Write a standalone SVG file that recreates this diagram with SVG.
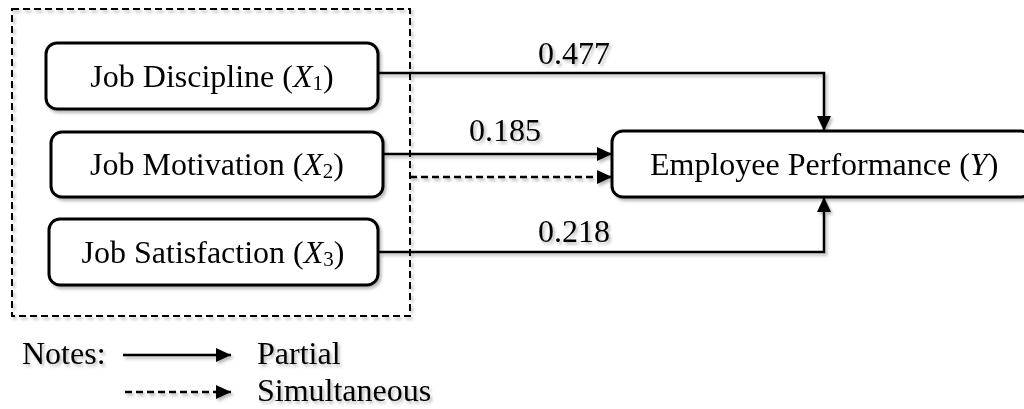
<svg xmlns="http://www.w3.org/2000/svg" width="1024" height="409" viewBox="0 0 1024 409">
<style>
  .t { font-family: "Liberation Serif", "Times New Roman", serif; font-size: 32px; fill: #000; }
  .box { fill: #fff; stroke: #000; stroke-width: 3; }
  .ln { fill: none; stroke: #000; stroke-width: 2.5; }
  .dash { fill: none; stroke: #000; stroke-width: 2.5; stroke-dasharray: 7 4; }
  .frame { fill: none; stroke: #000; stroke-width: 2; stroke-dasharray: 7 4; }
</style>
<defs>
  <filter id="sh" x="-5%" y="-5%" width="110%" height="120%">
    <feDropShadow dx="2" dy="2.5" stdDeviation="1.6" flood-color="#000" flood-opacity="0.28"/>
  </filter>
  <marker id="ah" markerUnits="userSpaceOnUse" markerWidth="16" markerHeight="14" refX="15" refY="7" orient="auto">
    <path d="M0,0 L15,7 L0,14 z" fill="#000"/>
  </marker>
</defs>
<rect width="1024" height="409" fill="#fff"/>
<g filter="url(#sh)">
  <rect id="group-frame" class="frame" x="12" y="9" width="398" height="307"/>
  <g id="connectors">
    <polyline class="ln" points="378,73 824,73 824,131" marker-end="url(#ah)"/>
    <line class="ln" x1="383" y1="154" x2="612" y2="154" marker-end="url(#ah)"/>
    <line class="dash" x1="410" y1="177" x2="612" y2="177" marker-end="url(#ah)"/>
    <polyline class="ln" points="378,252 824,252 824,197" marker-end="url(#ah)"/>
    <text class="t" x="538" y="64">0.477</text>
    <text class="t" x="469" y="141">0.185</text>
    <text class="t" x="538" y="242">0.218</text>
  </g>
  <g id="node-x1">
    <rect class="box" x="46" y="43" width="332" height="66" rx="11"/>
    <text class="t" x="212" y="87" text-anchor="middle">Job Discipline (<tspan font-style="italic">X</tspan><tspan font-size="21" dy="3">1</tspan><tspan dy="-3">)</tspan></text>
  </g>
  <g id="node-x2">
    <rect class="box" x="51" y="132" width="332" height="65" rx="11"/>
    <text class="t" x="217" y="175" text-anchor="middle">Job Motivation (<tspan font-style="italic">X</tspan><tspan font-size="21" dy="3">2</tspan><tspan dy="-3">)</tspan></text>
  </g>
  <g id="node-x3">
    <rect class="box" x="49" y="219" width="329" height="66" rx="11"/>
    <text class="t" x="213" y="263" text-anchor="middle">Job Satisfaction (<tspan font-style="italic">X</tspan><tspan font-size="21" dy="3">3</tspan><tspan dy="-3">)</tspan></text>
  </g>
  <g id="node-y">
    <rect class="box" x="612" y="131" width="420" height="66" rx="11"/>
    <text class="t" x="650" y="175">Employee Performance (<tspan font-style="italic">Y</tspan>)</text>
  </g>
  <g id="legend">
    <text class="t" x="22" y="364">Notes:</text>
    <line class="ln" x1="123" y1="355" x2="231" y2="355" marker-end="url(#ah)"/>
    <text class="t" x="257" y="364">Partial</text>
    <line class="dash" x1="125" y1="392" x2="231" y2="392" marker-end="url(#ah)"/>
    <text class="t" x="257" y="401">Simultaneous</text>
  </g>
</g>
</svg>
